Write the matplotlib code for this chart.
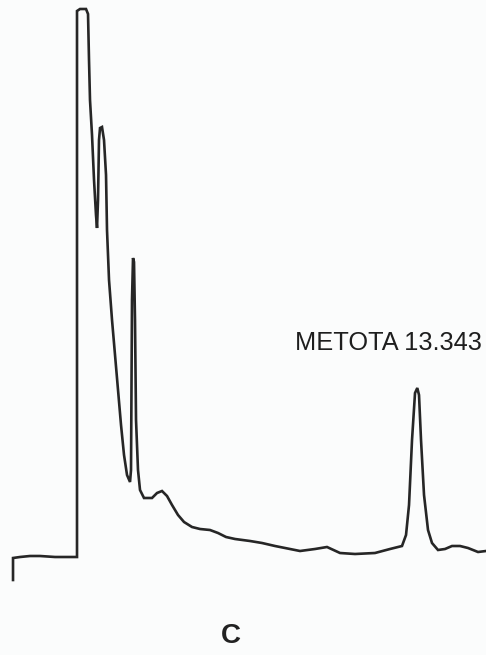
import matplotlib
matplotlib.use("Agg")
import matplotlib.pyplot as plt

# retention time (min) and detector response (% of full scale)
time_min = [
    -0.133, -0.133, 0.100, 0.433, 0.767, 1.267, 1.767, 2.000, 2.000, 2.100,
    2.300, 2.367, 2.400, 2.433, 2.500, 2.567, 2.633, 2.667, 2.700, 2.733,
    2.767, 2.833, 2.900, 2.967, 3.000, 3.067, 3.167, 3.267, 3.367, 3.467,
    3.567, 3.667, 3.767, 3.800, 3.833, 3.867, 3.900, 3.933, 3.967, 4.033,
    4.100, 4.233, 4.500, 4.667, 4.833, 5.000, 5.167, 5.367, 5.567, 5.833,
    6.100, 6.433, 6.700, 6.967, 7.267, 7.767, 8.167, 8.600, 9.100, 9.433,
    9.933, 10.333, 10.767, 11.267, 11.933, 12.433, 12.833, 12.967, 13.067, 13.167,
    13.267, 13.343, 13.400, 13.467, 13.567, 13.700, 13.833, 14.033, 14.267, 14.500,
    14.767, 15.033, 15.367, 15.633,
]
response = [
    -4.6, -0.2, 0.0, 0.2, 0.2, 0.0, 0.0, 0.0, 109.2, 109.6,
    109.6, 108.6, 99.4, 91.4, 84.4, 75.4, 68.4, 65.8, 71.4, 83.4,
    85.8, 86.0, 83.4, 76.4, 65.4, 55.4, 47.4, 40.4, 33.4, 26.4,
    20.4, 16.4, 15.0, 17.4, 51.4, 59.8, 59.0, 47.4, 27.4, 17.4,
    13.4, 11.8, 11.8, 12.8, 13.2, 12.2, 10.4, 8.4, 7.0, 6.0,
    5.6, 5.4, 4.8, 4.0, 3.6, 3.2, 2.8, 2.2, 1.6, 1.2,
    1.6, 2.0, 0.8, 0.6, 0.8, 1.6, 2.2, 4.4, 10.4, 23.4,
    32.8, 33.8, 32.4, 23.4, 12.4, 5.4, 2.8, 1.4, 1.6, 2.2,
    2.2, 1.8, 1.0, 1.2,
]

peak_name = "METOTA"
peak_rt = 13.343
panel = "C"

fig = plt.figure(figsize=(4.86, 6.55), dpi=100, facecolor="#fbfcfc")
ax = fig.add_axes([0, 0, 1, 1])
ax.set_facecolor("#fbfcfc")
ax.plot(time_min, response, color="#262626", lw=1.9, solid_joinstyle="miter")
ax.set_xlim(-0.567, 15.633)
ax.set_ylim(-19.6, 111.4)
ax.axis("off")

ax.text(9.267, 42.8, f"{peak_name} {peak_rt:.3f}", family="Liberation Sans",
        fontsize=18.3, fontweight="medium", color="#1e1e1e",
        va="center", ha="left")
fig.text(0.475, 0.029, panel, family="Liberation Sans", fontsize=20,
         fontweight="bold", color="#222222", ha="center", va="center")

fig.savefig("out.png", dpi=100, facecolor=fig.get_facecolor())
